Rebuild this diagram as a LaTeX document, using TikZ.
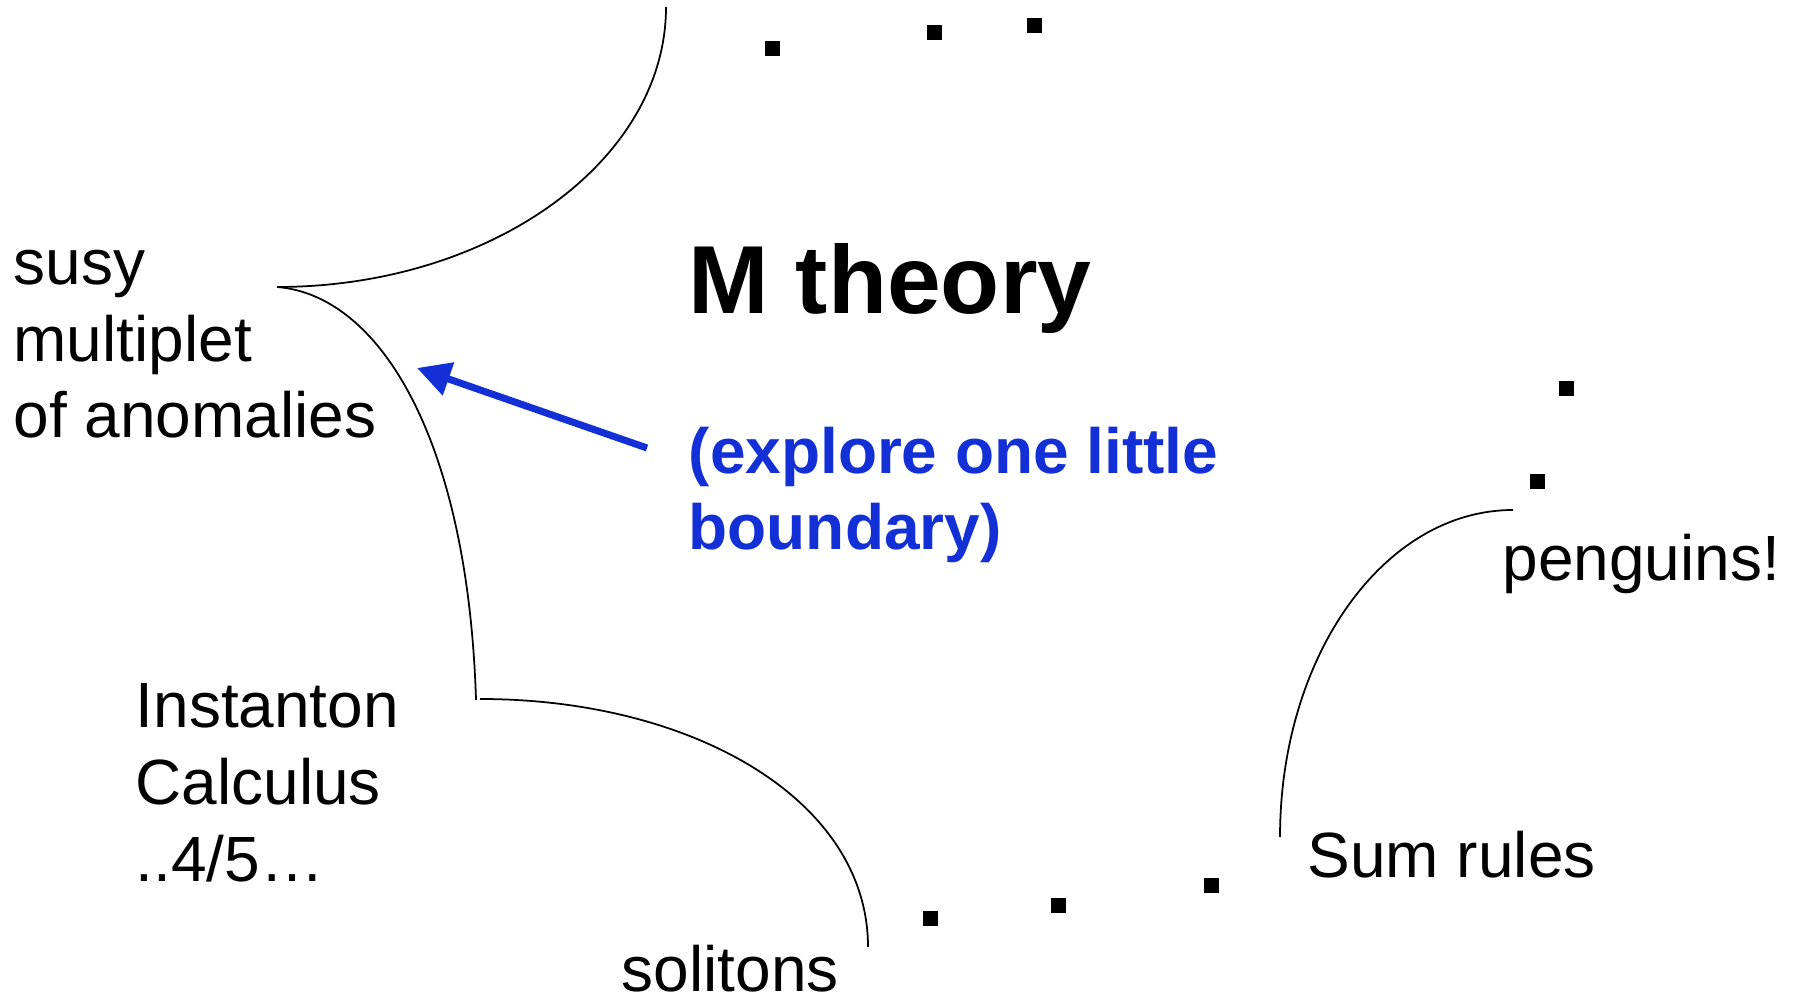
\documentclass[tikz,border=0pt]{standalone}
\usepackage{fontspec}
\setmainfont{Liberation Sans}
\usepackage{xcolor}
\definecolor{note-blue}{HTML}{1230D6}
\usetikzlibrary{arrows.meta}

\begin{document}
\begin{tikzpicture}[x=0.1mm, y=-0.1mm,
        every node/.style={font=\fontsize{18.2}{21.8}\selectfont, inner sep=0pt},
        topic/.style={anchor=base west, align=left},
        blip/.style={fill=black, minimum size=1.5mm, inner sep=0pt},
        rim/.style={line width=0.5pt}]
      \useasboundingbox (0,0) rectangle (1795,1002);
      \node[topic] (susy) at (13,438) {susy\\multiplet\\of anomalies};
      \node[topic] (inst) at (135,881) {Instanton\\Calculus\\..4/5…};
      \node[topic] (sol) at (621,991) {solitons};
      \node[topic] (sum) at (1307,877) {Sum rules};
      \node[topic] (peng) at (1502,581) {penguins!};
      \node[topic, font=\fontsize{27.5}{33}\selectfont\bfseries]
            (mth) at (688,314) {M theory};
      \node[topic, note-blue, font=\fontsize{18.2}{21.8}\selectfont\bfseries]
            (expl) at (688,550) {(explore one little\\boundary)};
      \coordinate (c0) at (666,7);
      \coordinate (c1) at (277,287);
      \coordinate (c2) at (476,700);
      \coordinate (c3) at (480,699);
      \coordinate (c4) at (868,947);
      \coordinate (c5) at (1280,837);
      \coordinate (c6) at (1513,510);
      \draw[rim] (c0) .. controls (666,161) and (491,287) .. (c1);
      \draw[rim] (c1) .. controls (380,295) and (468,440) .. (c2);
      \draw[rim] (c3) .. controls (693,699) and (868,800) .. (c4);
      \draw[rim] (c5) .. controls (1280,656) and (1384,510) .. (c6);
      \foreach \p [count=\i] in {(772,49),(934,33),(1034,26),(1566,389),
            (1537,482),(930,918),(1058,905),(1211,885)}
        \node[blip] (d\i) at \p {};
      \coordinate (tail) at (647,448);
      \coordinate (tip) at (417,368);
      \draw[-{Triangle[length=9.5pt, width=9.5pt]}, line width=2pt, note-blue]
            (tail) -- (tip);
    \end{tikzpicture}
\end{document}
